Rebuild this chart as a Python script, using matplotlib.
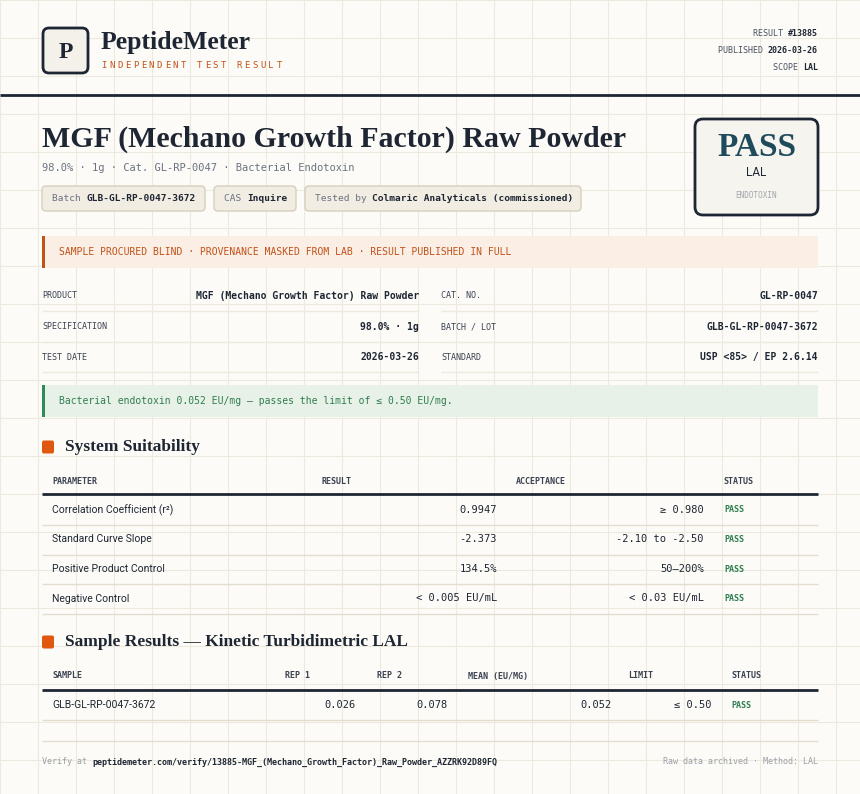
import matplotlib
matplotlib.use("Agg")
import matplotlib.pyplot as plt
from matplotlib.patches import FancyBboxPatch, Rectangle

# ---- content ----
brand = "PeptideMeter"
tagline = "INDEPENDENT TEST RESULT"
meta_labels = ["RESULT", "PUBLISHED", "SCOPE"]
meta_values = ["#13885", "2026-03-26", "LAL"]
title = "MGF (Mechano Growth Factor) Raw Powder"
subtitle = "98.0% · 1g · Cat. GL-RP-0047 · Bacterial Endotoxin"
chips = [("Batch", "GLB-GL-RP-0047-3672"), ("CAS", "Inquire"),
         ("Tested by", "Colmaric Analyticals (commissioned)")]
banner = "SAMPLE PROCURED BLIND · PROVENANCE MASKED FROM LAB · RESULT PUBLISHED IN FULL"
info_left = [("PRODUCT", "MGF (Mechano Growth Factor) Raw Powder"),
             ("SPECIFICATION", "98.0% · 1g"), ("TEST DATE", "2026-03-26")]
info_right = [("CAT. NO.", "GL-RP-0047"), ("BATCH / LOT", "GLB-GL-RP-0047-3672"),
              ("STANDARD", "USP <85> / EP 2.6.14")]
verdict = "Bacterial endotoxin 0.052 EU/mg — passes the limit of ≤ 0.50 EU/mg."

suit_params = ["Correlation Coefficient (r²)", "Standard Curve Slope",
               "Positive Product Control", "Negative Control"]
suit_results = ["0.9947", "-2.373", "134.5%", "< 0.005 EU/mL"]
suit_accept = ["≥ 0.980", "-2.10 to -2.50", "50–200%", "< 0.03 EU/mL"]
suit_status = ["PASS", "PASS", "PASS", "PASS"]

samples = ["GLB-GL-RP-0047-3672"]
rep1 = ["0.026"]
rep2 = ["0.078"]
means = ["0.052"]
limits = ["≤ 0.50"]
sample_status = ["PASS"]

verify_url = "peptidemeter.com/verify/13885-MGF_(Mechano_Growth_Factor)_Raw_Powder_AZZRK92D89FQ"
footer_right = "Raw data archived · Method: LAL"

# ---- style ----
BG = "#fcfbf7"
GRID = "#ece9e0"
DARK = "#1e2633"
GRAY = "#6b7280"
ORANGE = "#c0521a"
GREEN = "#2e7d4f"
SERIF = ["Liberation Serif", "DejaVu Serif"]
MONO = ["DejaVu Sans Mono"]
SANS = ["Roboto", "DejaVu Sans"]

fig = plt.figure(figsize=(8.6, 7.94), dpi=100)
fig.patch.set_facecolor(BG)
ax = fig.add_axes([0, 0, 1, 1])
ax.set_xlim(0, 860)
ax.set_ylim(794, 0)
ax.axis("off")

for g in range(0, 861, 38):
    ax.axvline(g, color=GRID, lw=0.8, zorder=0)
for g in range(0, 795, 38):
    ax.axhline(g, color=GRID, lw=0.8, zorder=0)


def rbox(x0, y0, x1, y1, fc, ec, lw=1, r=4):
    ax.add_patch(FancyBboxPatch((x0, y0), x1 - x0, y1 - y0,
                                boxstyle=f"round,pad=0,rounding_size={r}",
                                fc=fc, ec=ec, lw=lw, zorder=2))


def hline(y, x0=42, x1=818, c="#e3ddd0", lw=1):
    ax.plot([x0, x1], [y, y], color=c, lw=lw, zorder=2, solid_capstyle="butt")


# header
rbox(43, 28, 88, 73, "#f3f1ea", DARK, lw=2, r=6)
ax.text(65.5, 52, "P", family=SERIF, weight="bold", fontsize=17, color=DARK,
        ha="center", va="center")
ax.text(101, 42, brand, family=SERIF, weight="bold", fontsize=18.5, color=DARK, va="center")
# letter-spaced tagline
t = None
for ch in tagline:
    if t is None:
        t = ax.text(101, 65, ch, family=MONO, fontsize=6.5, color=ORANGE, va="center")
    else:
        t = ax.annotate(ch, xy=(1, 0.5), xycoords=t, xytext=(2.6, 0),
                        textcoords="offset pixels", family=MONO, fontsize=6.5,
                        color=ORANGE, va="center")
for i, (lab, val) in enumerate(zip(meta_labels, meta_values)):
    y = 34 + i * 16.5
    t = ax.text(818, y, val, family=MONO, weight="bold", fontsize=6, color=DARK,
                ha="right", va="center")
    ax.annotate(lab + " ", xy=(0, 0.5), xycoords=t, family=MONO, fontsize=6,
                color="#4a5160", ha="right", va="center")
hline(95, 0, 860, DARK, 2)

# title block
ax.text(42, 139, title, family=SERIF, weight="bold", fontsize=21.5, color=DARK, va="center")
ax.text(42, 168, subtitle, family=MONO, fontsize=7.5, color=GRAY, va="center")
chip_x = [(42, 205), (214, 296), (305, 581)]
for (lab, val), (x0, x1) in zip(chips, chip_x):
    rbox(x0, 186, x1, 211, "#f1ede3", "#d6cfbd", r=4)
    t = ax.text(x0 + 10, 198.5, lab + " ", family=MONO, fontsize=6.8, color=GRAY, va="center")
    ax.annotate(val, xy=(1, 0.5), xycoords=t, family=MONO, fontsize=6.8,
                weight="bold", color=DARK, va="center")

# pass badge
rbox(695, 119, 818, 215, "#f6f4ee", DARK, lw=2, r=8)
ax.text(756.5, 148, "PASS", family=SERIF, weight="bold", fontsize=24, color="#1e4a5c",
        ha="center", va="center")
ax.text(756.5, 173, "LAL", family=SANS, fontsize=8.5, color=DARK, ha="center", va="center")
ax.text(756.5, 195, "ENDOTOXIN", family=MONO, fontsize=5.5, color="#a0a6ad",
        ha="center", va="center")

# banner
ax.add_patch(Rectangle((42, 236), 776, 32, fc="#fbeee4", ec="none", zorder=2))
ax.add_patch(Rectangle((42, 236), 3, 32, fc=ORANGE, ec="none", zorder=3))
ax.text(59, 252, banner, family=MONO, fontsize=7, color=ORANGE, va="center")

# info grid
for i, ((ll, lv), (rl, rv)) in enumerate(zip(info_left, info_right)):
    y = 296 + i * 30.5
    ax.text(42, y, ll, family=MONO, fontsize=6, color="#3a4150", va="center")
    ax.text(419, y, lv, family=MONO, fontsize=7, weight="bold", color=DARK, ha="right", va="center")
    ax.text(441, y, rl, family=MONO, fontsize=6, color="#3a4150", va="center")
    ax.text(818, y, rv, family=MONO, fontsize=7, weight="bold", color=DARK, ha="right", va="center")
    hline(y + 15, 42, 419, "#eeeae0")
    hline(y + 15, 441, 818, "#eeeae0")

# verdict
ax.add_patch(Rectangle((42, 385), 776, 32, fc="#e8f1e8", ec="none", zorder=2))
ax.add_patch(Rectangle((42, 385), 3, 32, fc="#2e8b57", ec="none", zorder=3))
ax.text(59, 401, verdict, family=MONO, fontsize=7, color=GREEN, va="center")


def section(y, label):
    rbox(42, y - 6.5, 54, y + 6.5, "#e0570f", "none", r=2)
    ax.text(65, y, label, family=SERIF, weight="bold", fontsize=12.5, color=DARK, va="center")


# system suitability
section(447, "System Suitability")
for x, h in zip([52, 321, 516, 723], ["PARAMETER", "RESULT", "ACCEPTANCE", "STATUS"]):
    ax.text(x, 481, h, family=MONO, fontsize=6, weight="bold", color="#3a4150", va="center")
hline(494, c=DARK, lw=2)
for i in range(len(suit_params)):
    y = 510 + i * 29.5
    ax.text(52, y, suit_params[i], family=SANS, fontsize=7.5, color=DARK, va="center")
    ax.text(497, y, suit_results[i], family=MONO, fontsize=7.5, color=DARK, ha="right", va="center")
    ax.text(704, y, suit_accept[i], family=MONO, fontsize=7.5, color=DARK, ha="right", va="center")
    ax.text(724, y, suit_status[i], family=MONO, fontsize=6, weight="bold", color=GREEN, va="center")
    hline(y + 15)

# sample results
section(642, "Sample Results — Kinetic Turbidimetric LAL")
for x, h in zip([52, 285, 377, 468, 628, 731],
                ["SAMPLE", "REP 1", "REP 2", "MEAN (EU/MG)", "LIMIT", "STATUS"]):
    ax.text(x, 676, h, family=MONO, fontsize=6, weight="bold", color="#3a4150", va="center")
hline(690, c=DARK, lw=2)
for i in range(len(samples)):
    y = 705 + i * 29.5
    ax.text(52, y, samples[i], family=SANS, fontsize=7.5, color=DARK, va="center")
    ax.text(356, y, rep1[i], family=MONO, fontsize=7.5, color=DARK, ha="right", va="center")
    ax.text(448, y, rep2[i], family=MONO, fontsize=7.5, color=DARK, ha="right", va="center")
    ax.text(612, y, means[i], family=MONO, fontsize=7.5, color=DARK, ha="right", va="center")
    ax.text(711, y, limits[i], family=MONO, fontsize=7.5, color=DARK, ha="right", va="center")
    ax.text(731, y, sample_status[i], family=MONO, fontsize=6, weight="bold", color=GREEN, va="center")
    hline(y + 15)

# footer
hline(741)
t = ax.text(42, 762, "Verify at ", family=MONO, fontsize=6, color="#9aa0a8", va="center")
ax.annotate(verify_url, xy=(1, 0.5), xycoords=t, family=MONO, fontsize=6,
            weight="bold", color=DARK, va="center")
ax.text(818, 762, footer_right, family=MONO, fontsize=6, color="#9aa0a8", ha="right", va="center")

fig.savefig("out.png", dpi=100, facecolor=BG)
